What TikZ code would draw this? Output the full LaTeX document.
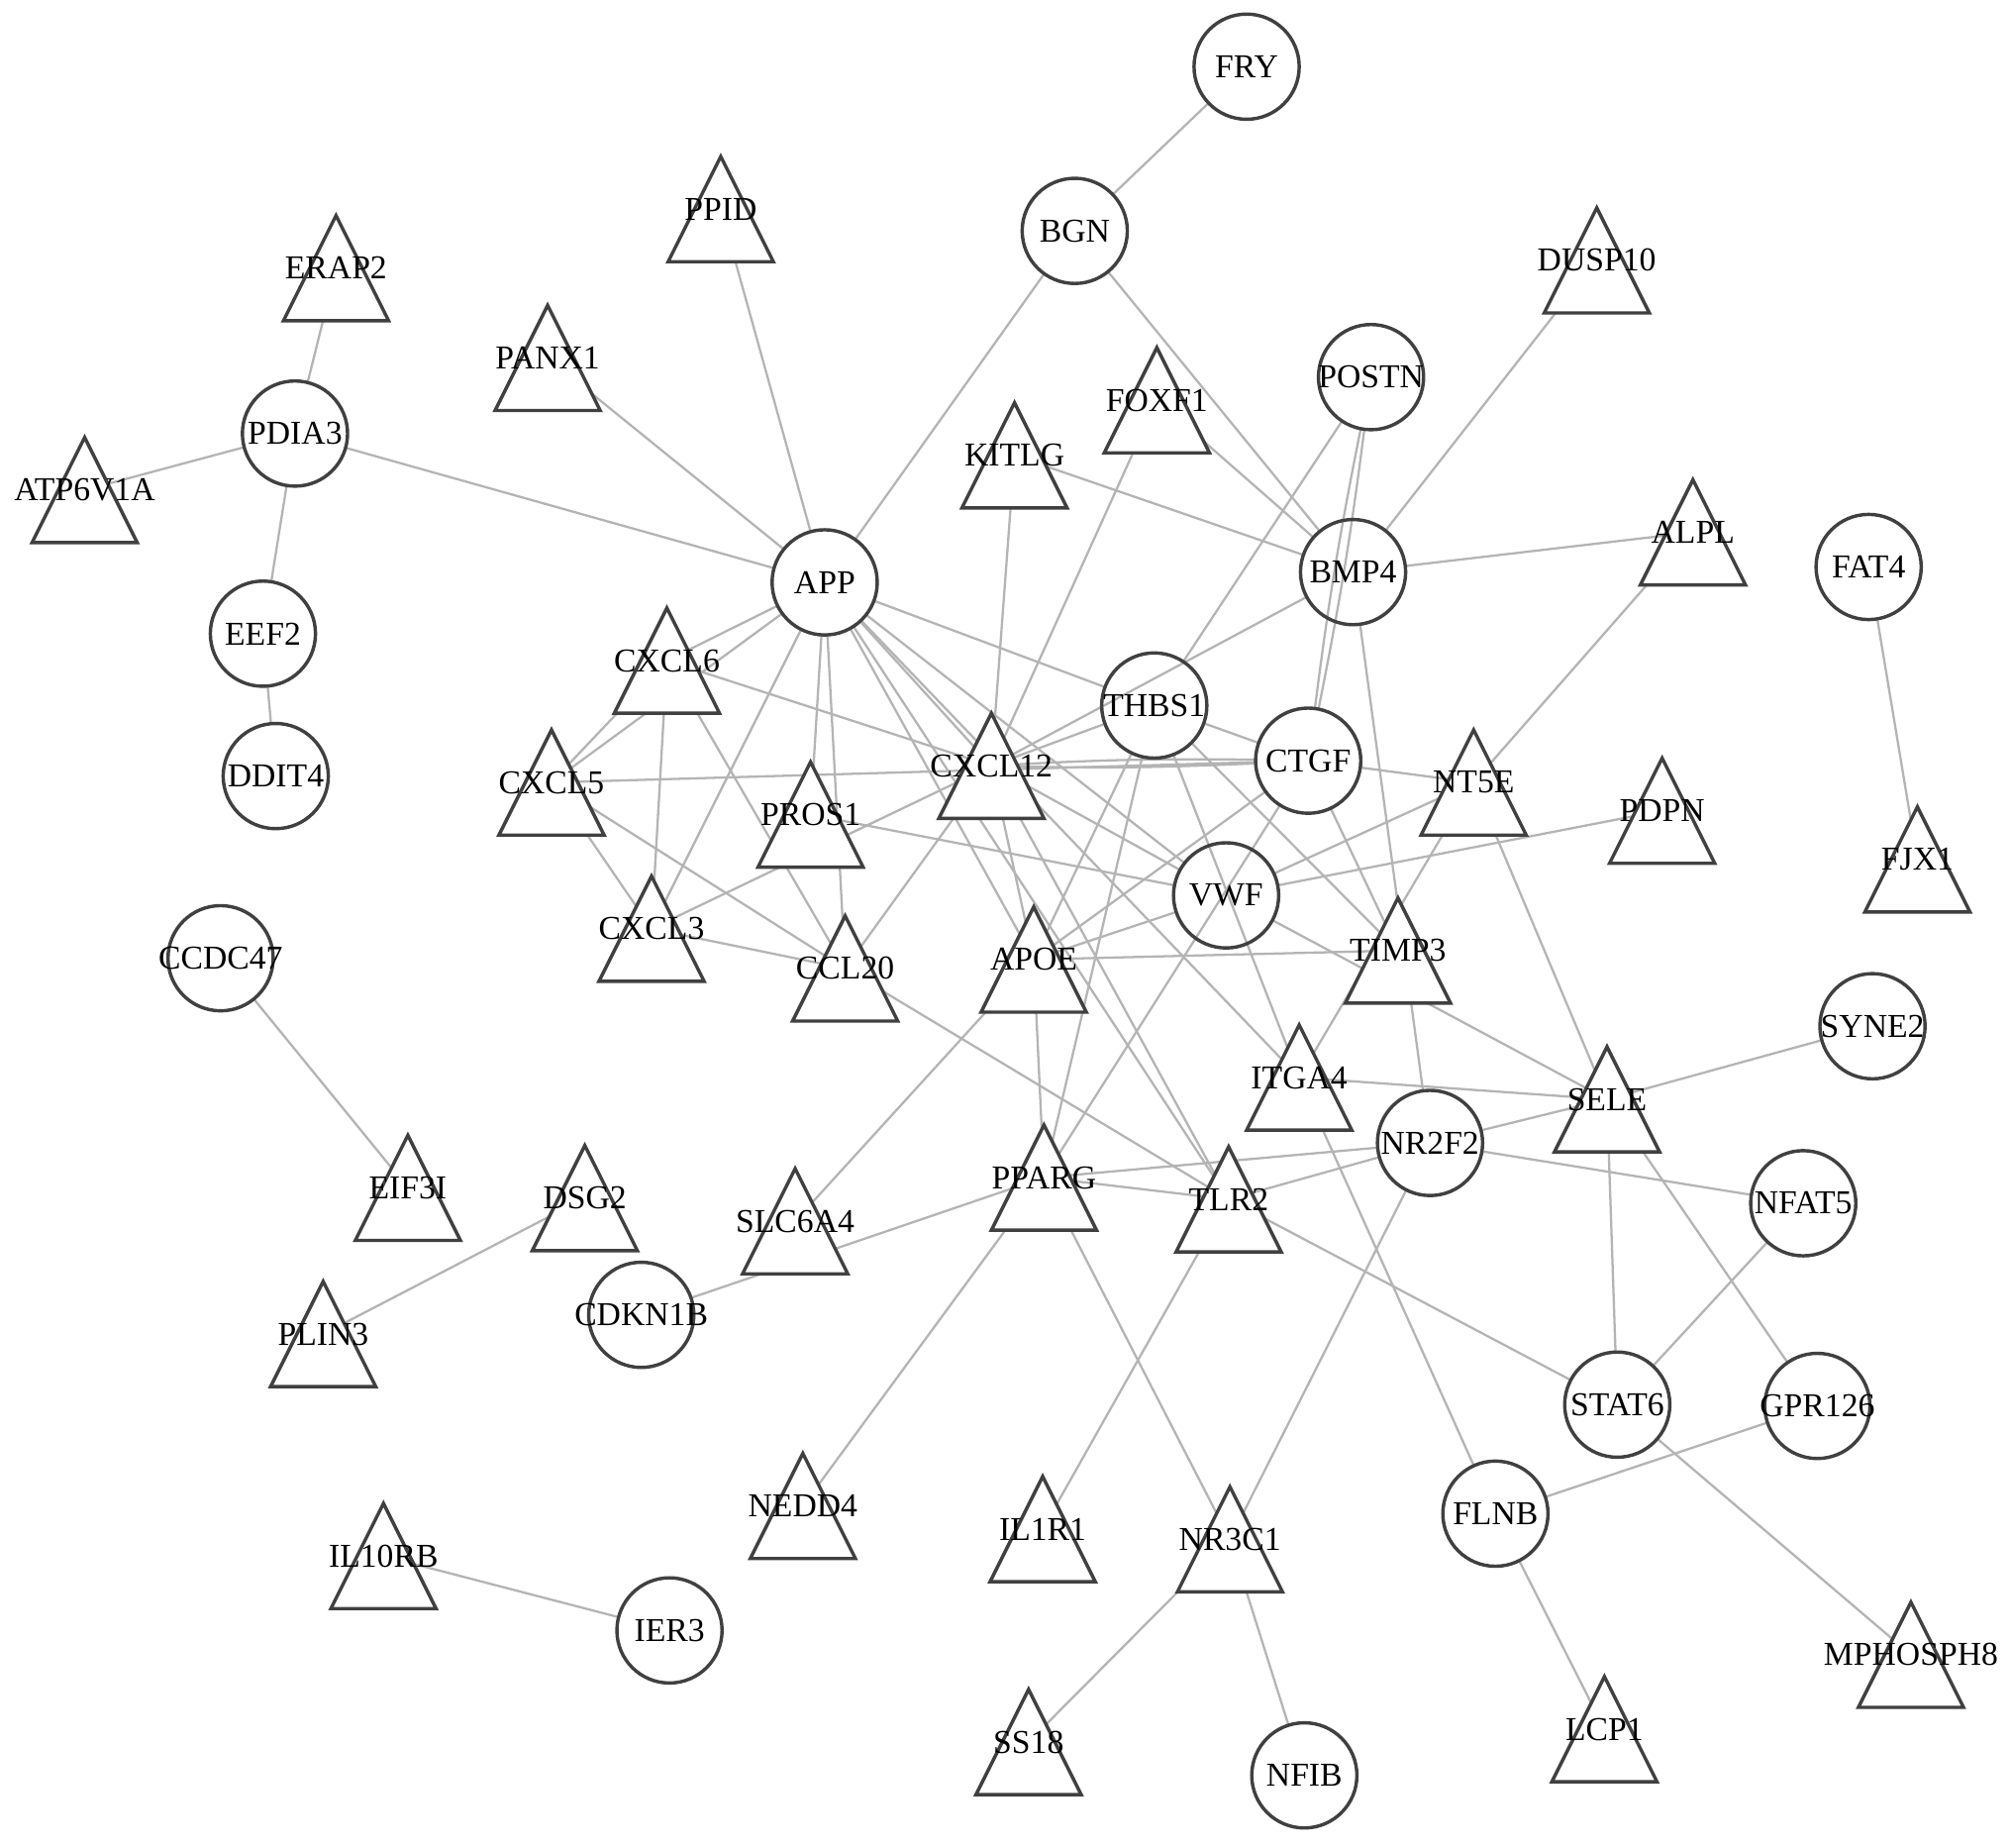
\documentclass[tikz,border=0pt]{standalone}
\usepackage{fontspec}
\setmainfont{Liberation Serif}
\usetikzlibrary{backgrounds}
\definecolor{nodecol}{HTML}{404040}
\definecolor{edgecol}{HTML}{B4B4B4}
\makeatletter
\pgfdeclareshape{uptri}{%
  \inheritsavedanchors[from=rectangle]%
  \inheritanchorborder[from=rectangle]%
  \inheritanchor[from=rectangle]{center}%
  \inheritanchor[from=rectangle]{north}%
  \inheritanchor[from=rectangle]{south}%
  \inheritanchor[from=rectangle]{east}%
  \inheritanchor[from=rectangle]{west}%
  \backgroundpath{%
    \southwest \pgf@xa=\pgf@x \pgf@ya=\pgf@y
    \northeast \pgf@xb=\pgf@x \pgf@yb=\pgf@y
    \pgf@xc=.5\pgf@xa \advance\pgf@xc by .5\pgf@xb
    \pgfpathmoveto{\pgfqpoint{\pgf@xc}{\pgf@yb}}%
    \pgfpathlineto{\pgfqpoint{\pgf@xb}{\pgf@ya}}%
    \pgfpathlineto{\pgfqpoint{\pgf@xa}{\pgf@ya}}%
    \pgfpathclose
  }%
}
\makeatother
\begin{document}
\begin{tikzpicture}[x=0.1mm,y=-0.1mm,
  lab/.style={font=\fontsize{7.4}{8}\selectfont, text=black, inner sep=0pt},
  every label/.style={lab},
  circ/.style={circle, draw=nodecol, line width=0.75pt, minimum size=8.2mm, inner sep=0pt, outer sep=0pt},
  tri/.style={shape=uptri, draw=nodecol, fill=white, line width=0.75pt, line join=miter, minimum width=8.2mm, minimum height=8.2mm, inner sep=0pt, outer sep=0pt},
  edge/.style={draw=edgecol, line width=0.5pt}]
\useasboundingbox (0,0) rectangle (1568,1440);
% circles
\foreach \n/\x/\y in {FRY/972/52, BGN/838/180, POSTN/1069/294, PDIA3/230/338, APP/643/454,
  BMP4/1055/446, FAT4/1457/442, EEF2/205/494, THBS1/900/550, CTGF/1020/593, DDIT4/215/605,
  VWF/956/698, CCDC47/172/747, SYNE2/1460/800, NR2F2/1115/891, NFAT5/1406/938, CDKN1B/500/1025,
  STAT6/1261/1095, GPR126/1417/1096, FLNB/1166/1180, IER3/522/1271, NFIB/1017/1384}
  \node[circ, label=center:{\n}] (\n) at (\x,\y) {};
% triangles
\foreach \n/\x/\y in {PPID/562/163, ERAP2/262/209, DUSP10/1245/203, PANX1/427/279, FOXF1/902/312,
  KITLG/791/355, ATP6V1A/66/382, ALPL/1320/415, CXCL6/520/515, CXCL12/773/597, CXCL5/430/610,
  NT5E/1149/610, PDPN/1296/632, PROS1/632/635, FJX1/1495/670, CXCL3/508/724, TIMP3/1090/741,
  APOE/806/748, CCL20/659/755, ITGA4/1013/840, SELE/1253/857, PPARG/814/918, EIF3I/318/926,
  DSG2/456/934, TLR2/958/935, SLC6A4/620/952, PLIN3/252/1040, NEDD4/626/1174, IL1R1/813/1192,
  NR3C1/959/1200, IL10RB/299/1213, MPHOSPH8/1490/1290, LCP1/1251/1348, SS18/802/1358}
  \node[tri, label=center:{\n}] (\n) at (\x,\y) {};
\begin{pgfonlayer}{background}
\fill[white] (0,0) rectangle (1568,1440);
\foreach \a/\b in {FRY/BGN, BGN/APP, BGN/BMP4, PPID.center/APP, PANX1.center/APP, PDIA3/APP,
  PDIA3/ERAP2.center, PDIA3/ATP6V1A.center, PDIA3/EEF2, EEF2/DDIT4, KITLG.center/BMP4,
  KITLG.center/CXCL12.center, FOXF1.center/CXCL12.center, FOXF1.center/BMP4, POSTN/THBS1,
  BMP4/DUSP10.center, BMP4/ALPL.center, BMP4/CXCL12.center, BMP4/NR2F2, ALPL.center/NT5E.center,
  FAT4/FJX1.center, APP/CXCL6.center, APP/CXCL5.center, APP/CXCL3.center, APP/PROS1.center,
  APP/CCL20.center, APP/APOE.center, APP/CXCL12.center, APP/THBS1, APP/VWF, APP/ITGA4.center,
  APP/TLR2.center, CXCL6.center/CXCL5.center, CXCL6.center/CXCL3.center, CXCL6.center/CCL20.center,
  CXCL6.center/CXCL12.center, CXCL5.center/CXCL3.center, CXCL5.center/CCL20.center, CXCL5.center/CTGF,
  CXCL3.center/CCL20.center, CXCL3.center/CXCL12.center, PROS1.center/VWF, CCL20.center/CXCL12.center,
  CCL20.center/TLR2.center, CXCL12.center/THBS1, CXCL12.center/VWF, CXCL12.center/APOE.center,
  CXCL12.center/TLR2.center, CTGF/NT5E.center, THBS1/CTGF, THBS1/ITGA4.center, THBS1/TIMP3.center,
  THBS1/PPARG.center, THBS1/APOE.center, CTGF/TIMP3.center, CTGF/APOE.center, CTGF/PPARG.center,
  APOE.center/VWF, APOE.center/TIMP3.center, APOE.center/PPARG.center, APOE.center/SLC6A4.center,
  VWF/NT5E.center, VWF/PDPN.center, VWF/SELE.center, NT5E.center/ITGA4.center, NT5E.center/SELE.center,
  ITGA4.center/SELE.center, ITGA4.center/FLNB, NR2F2/SELE.center, NR2F2/PPARG.center, NR2F2/TLR2.center,
  NR2F2/NFAT5, NR2F2/NR3C1.center, CDKN1B/PPARG.center, PPARG.center/TLR2.center,
  PPARG.center/NEDD4.center, PPARG.center/NR3C1.center, TLR2.center/IL1R1.center, TLR2.center/STAT6,
  NR3C1.center/SS18.center, NR3C1.center/NFIB, SELE.center/SYNE2, SELE.center/STAT6,
  SELE.center/GPR126, NFAT5/STAT6, STAT6/MPHOSPH8.center, GPR126/FLNB, FLNB/LCP1.center,
  CCDC47/EIF3I.center, DSG2.center/PLIN3.center, IL10RB.center/IER3}
  \draw[edge] (\a) -- (\b);
\draw[edge] (POSTN) to[bend left=2] (CTGF);
\draw[edge] (POSTN) to[bend right=2] (CTGF);
\draw[edge] (CXCL12.center) to[bend left=2] (CTGF);
\draw[edge] (CXCL12.center) to[bend right=2] (CTGF);
\end{pgfonlayer}
\end{tikzpicture}
\end{document}
